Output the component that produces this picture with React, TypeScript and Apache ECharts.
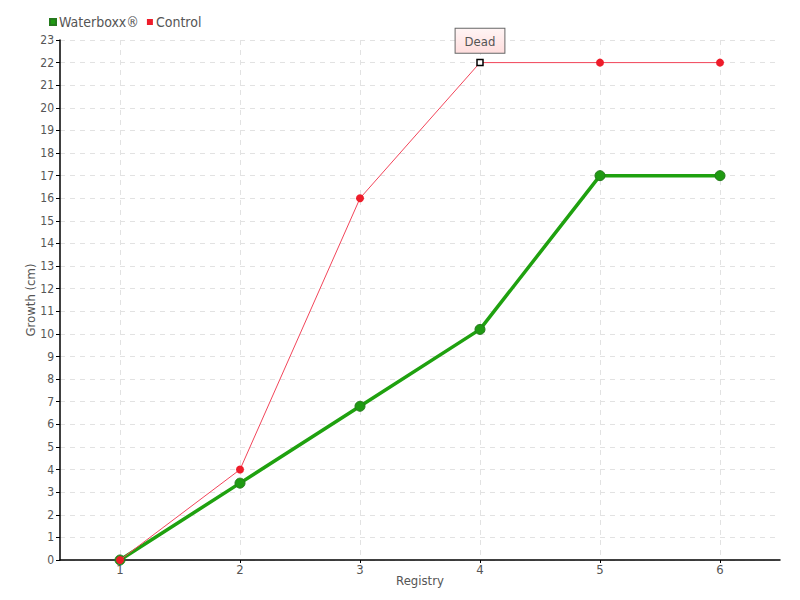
import React, { useEffect, useRef } from "react";
import * as echarts from "echarts";

const registries = [1, 2, 3, 4, 5, 6];
const waterboxxValues = [0, 3.4, 6.8, 10.2, 17, 17];
const controlValues = [0, 4, 16, 22, 22, 22];
const deadIndex = 3;
const deadLabel = "Dead";
const yMax = 23;

const FONT = "'DejaVu Sans Condensed', 'Liberation Sans Narrow', sans-serif";
const TXT = "#555";

export default function App() {
  const ref = useRef<HTMLDivElement>(null);
  useEffect(() => {
    if (!ref.current) return;
    const chart = echarts.init(ref.current, undefined, { renderer: "svg" });
    const controlData = controlValues.map((v, i) => {
      if (i === deadIndex) {
        return {
          value: [registries[i], v],
          symbol: "rect",
          symbolSize: 6,
          itemStyle: { color: "#fff", borderColor: "#000", borderWidth: 1.5 },
          label: {
            show: true,
            position: "top",
            distance: 6,
            formatter: deadLabel,
            color: TXT,
            fontFamily: FONT,
            fontSize: 13,
            backgroundColor: {
              type: "linear",
              x: 0, y: 0, x2: 0, y2: 1,
              colorStops: [
                { offset: 0, color: "#fff4f4" },
                { offset: 1, color: "#ffdede" },
              ],
            },
            borderColor: "#666",
            borderWidth: 1,
            padding: [6, 9, 5, 9],
          },
        };
      }
      return { value: [registries[i], v] };
    });
    chart.setOption({
      animation: false,
      textStyle: { fontFamily: FONT },
      legend: {
        left: 44,
        top: 10,
        itemWidth: 6,
        itemHeight: 6,
        itemGap: 8,
        icon: "rect",
        textStyle: { color: TXT, fontSize: 14, fontFamily: FONT, padding: [0, 0, 0, -2] },
        data: ["Waterboxx®", "Control"],
      },
      grid: { left: 60, right: 20, top: 40, bottom: 40, containLabel: false },
      xAxis: {
        type: "value",
        min: 0.5,
        max: 6.5,
        name: "Registry",
        nameLocation: "middle",
        nameGap: 14,
        nameMoveOverlap: false,
        nameTextStyle: { color: TXT, fontSize: 13, fontFamily: FONT },
        axisLine: { show: true, lineStyle: { color: "#000", width: 1.5 } },
        axisTick: { show: true, length: 3, customValues: registries, lineStyle: { color: "#000" } },
        axisLabel: { customValues: registries, color: TXT, fontSize: 13, fontFamily: FONT, margin: 3 },
        splitLine: { show: true, lineStyle: { color: "#e2e2e2", type: [5, 5] } },
      },
      yAxis: {
        type: "value",
        min: 0,
        max: yMax,
        interval: 1,
        name: "Growth (cm)",
        nameLocation: "middle",
        nameGap: 23,
        nameMoveOverlap: false,
        nameTextStyle: { color: TXT, fontSize: 13, fontFamily: FONT },
        axisLine: { show: true, lineStyle: { color: "#000", width: 1.5 } },
        axisTick: { show: true, length: 4, lineStyle: { color: "#000" } },
        axisLabel: { color: TXT, fontSize: 12, fontFamily: FONT, margin: 6 },
        splitLine: { show: true, lineStyle: { color: "#e2e2e2", type: [5, 5] } },
      },
      series: [
        {
          name: "Waterboxx®",
          type: "line",
          data: waterboxxValues.map((v, i) => [registries[i], v]),
          symbol: "circle",
          symbolSize: 10,
          color: "#1fa10f",
          lineStyle: { width: 3.5, color: "#1fa10f" },
          itemStyle: { color: "#1f9a12", borderColor: "#257a1d", borderWidth: 1 },
          z: 2,
        },
        {
          name: "Control",
          type: "line",
          data: controlData,
          symbol: "circle",
          symbolSize: 8,
          color: "#ee1c2a",
          lineStyle: { width: 1, color: "#f2455a" },
          itemStyle: { color: "#ee1c2a" },
          z: 3,
        },
      ],
    });
    return () => chart.dispose();
  }, []);
  return <div ref={ref} style={{ width: 800, height: 600, position: "absolute", left: 0, top: 0 }} />;
}
